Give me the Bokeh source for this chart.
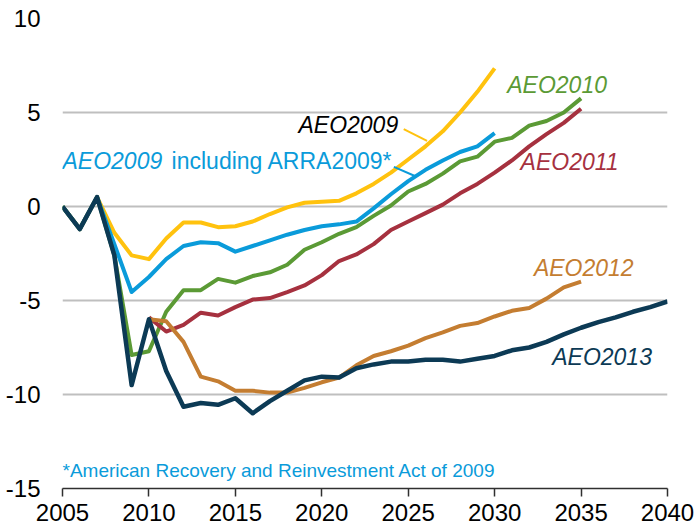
from bokeh.plotting import figure
from bokeh.models import Range1d, FixedTicker, Label
from bokeh.embed import file_html
from bokeh.resources import INLINE

# ---- data ----
years_aeo2009 = list(range(2005, 2031))
aeo2009 = [0, -1.2, 0.5, -1.4, -2.6, -2.8, -1.7, -0.85, -0.85, -1.1, -1.05, -0.8, -0.4,
           -0.05, 0.2, 0.25, 0.3, 0.7, 1.2, 1.8, 2.5, 3.2, 4.0, 5.0, 6.1, 7.35]

years_arra = list(range(2005, 2031))
aeo2009_arra = [0, -1.2, 0.5, -2.0, -4.55, -3.75, -2.8, -2.1, -1.9, -1.95, -2.4, -2.1, -1.8,
                -1.5, -1.25, -1.05, -0.95, -0.8, -0.1, 0.65, 1.35, 1.95, 2.45, 2.9, 3.2, 3.9]

years_aeo2010 = list(range(2005, 2036))
aeo2010 = [0, -1.2, 0.5, -2.6, -7.9, -7.7, -5.6, -4.45, -4.45, -3.85, -4.05, -3.7, -3.5,
           -3.1, -2.3, -1.9, -1.45, -1.1, -0.5, 0.05, 0.8, 1.2, 1.75, 2.4, 2.65, 3.45,
           3.65, 4.3, 4.55, 5.0, 5.75]

years_aeo2011 = list(range(2010, 2036))
aeo2011 = [-5.9, -6.65, -6.3, -5.65, -5.8, -5.35, -4.95, -4.87, -4.55, -4.2, -3.65, -2.9,
           -2.55, -2.0, -1.25, -0.8, -0.35, 0.1, 0.7, 1.2, 1.8, 2.45, 3.2, 3.85, 4.45, 5.2]

years_aeo2012 = list(range(2010, 2036))
aeo2012 = [-6.0, -6.1, -7.2, -9.05, -9.3, -9.8, -9.8, -9.9, -9.9, -9.65, -9.35, -9.1, -8.45,
           -7.95, -7.7, -7.4, -7.0, -6.7, -6.35, -6.2, -5.85, -5.55, -5.4, -4.9, -4.3, -4.0]

years_aeo2013 = list(range(2005, 2041))
aeo2013 = [0, -1.2, 0.5, -2.6, -9.5, -6.0, -8.75, -10.65, -10.45, -10.55, -10.2, -11.0,
           -10.35, -9.8, -9.25, -9.05, -9.1, -8.6, -8.4, -8.25, -8.25, -8.15, -8.15, -8.25,
           -8.1, -7.95, -7.65, -7.5, -7.2, -6.8, -6.45, -6.15, -5.9, -5.6, -5.35, -5.05]

x_ticks = [2005, 2010, 2015, 2020, 2025, 2030, 2035, 2040]
y_ticks = [-15, -10, -5, 0, 5, 10]
y_tick_labels = ["-15", "-10", "-5", "0", "5", "10"]

# ---- styles ----
C_YEL = "#FFC20E"
C_BLU = "#0A9BDA"
C_GRN = "#5B9A35"
C_RED = "#A6313F"
C_ORA = "#C47D31"
C_NAV = "#0C3A55"
FONT = "Liberation Sans"

p = figure(width=694, height=532, x_range=Range1d(2005, 2040), y_range=Range1d(-15, 10),
           output_backend="svg", toolbar_location=None,
           min_border_left=62, min_border_right=27, min_border_top=18, min_border_bottom=44)
p.outline_line_color = None
p.background_fill_color = "white"
p.border_fill_color = "white"

p.xgrid.visible = False
p.ygrid.grid_line_color = "#BFBFBF"
p.ygrid.grid_line_width = 2

p.yaxis.ticker = FixedTicker(ticks=y_ticks)
p.yaxis.major_label_overrides = {t: s for t, s in zip(y_ticks, y_tick_labels)}
p.yaxis.axis_line_color = None
p.yaxis.major_tick_line_color = None
p.yaxis.minor_tick_line_color = None
p.yaxis.major_tick_out = 0
p.yaxis.major_tick_in = 0
p.yaxis.major_label_standoff = 22
p.yaxis.major_label_text_font_size = "24px"
p.yaxis.major_label_text_font = FONT
p.yaxis.major_label_text_color = "black"

p.xaxis.ticker = FixedTicker(ticks=x_ticks)
p.xaxis.major_label_overrides = {t: str(t) for t in x_ticks}
p.xaxis.axis_line_color = "#303030"
p.xaxis.axis_line_width = 1.5
p.xaxis.major_tick_line_color = "#303030"
p.xaxis.major_tick_line_width = 1.5
p.xaxis.major_tick_out = 8
p.xaxis.major_tick_in = 0
p.xaxis.minor_tick_line_color = None
p.xaxis.major_label_standoff = 7
p.xaxis.major_label_text_font_size = "24px"
p.xaxis.major_label_text_font = FONT
p.xaxis.major_label_text_color = "black"

LW = 4
p.line(years_aeo2009, aeo2009, line_color=C_YEL, line_width=LW, line_join="round")
p.line(years_arra, aeo2009_arra, line_color=C_BLU, line_width=LW, line_join="round")
p.line(years_aeo2010, aeo2010, line_color=C_GRN, line_width=LW, line_join="round")
p.line(years_aeo2011, aeo2011, line_color=C_RED, line_width=LW, line_join="round")
p.line(years_aeo2012, aeo2012, line_color=C_ORA, line_width=LW, line_join="round")
p.line(years_aeo2013, aeo2013, line_color=C_NAV, line_width=4.5, line_join="round")

# leader lines for labels
p.segment(x0=[2024.74], y0=[4.12], x1=[2026.09], y1=[3.49], line_color=C_YEL, line_width=2)
p.segment(x0=[2024.17], y0=[2.11], x1=[2025.42], y1=[1.61], line_color=C_BLU, line_width=2)

def lab(x, y, text, color, italic=True, size="23px"):
    p.add_layout(Label(x=x, y=y, text=text, text_color=color, text_font=FONT,
                       text_font_size=size, text_font_style="italic" if italic else "normal",
                       text_baseline="middle", text_align="left"))

lab(2018.65, 4.35, "AEO2009", "black")
lab(2005.0, 2.43, "AEO2009", C_BLU)
lab(2011.31, 2.43, "including ARRA2009*", C_BLU, italic=False)
lab(2030.73, 6.47, "AEO2010", C_GRN)
lab(2031.5, 2.38, "AEO2011", C_RED)
lab(2032.27, -3.29, "AEO2012", C_ORA)
lab(2033.33, -8.0, "AEO2013", C_NAV)
lab(2005.0, -14.06, "*American Recovery and Reinvestment Act of 2009", C_BLU, italic=False, size="19px")

open("out.html", "w").write(file_html(p, INLINE))
